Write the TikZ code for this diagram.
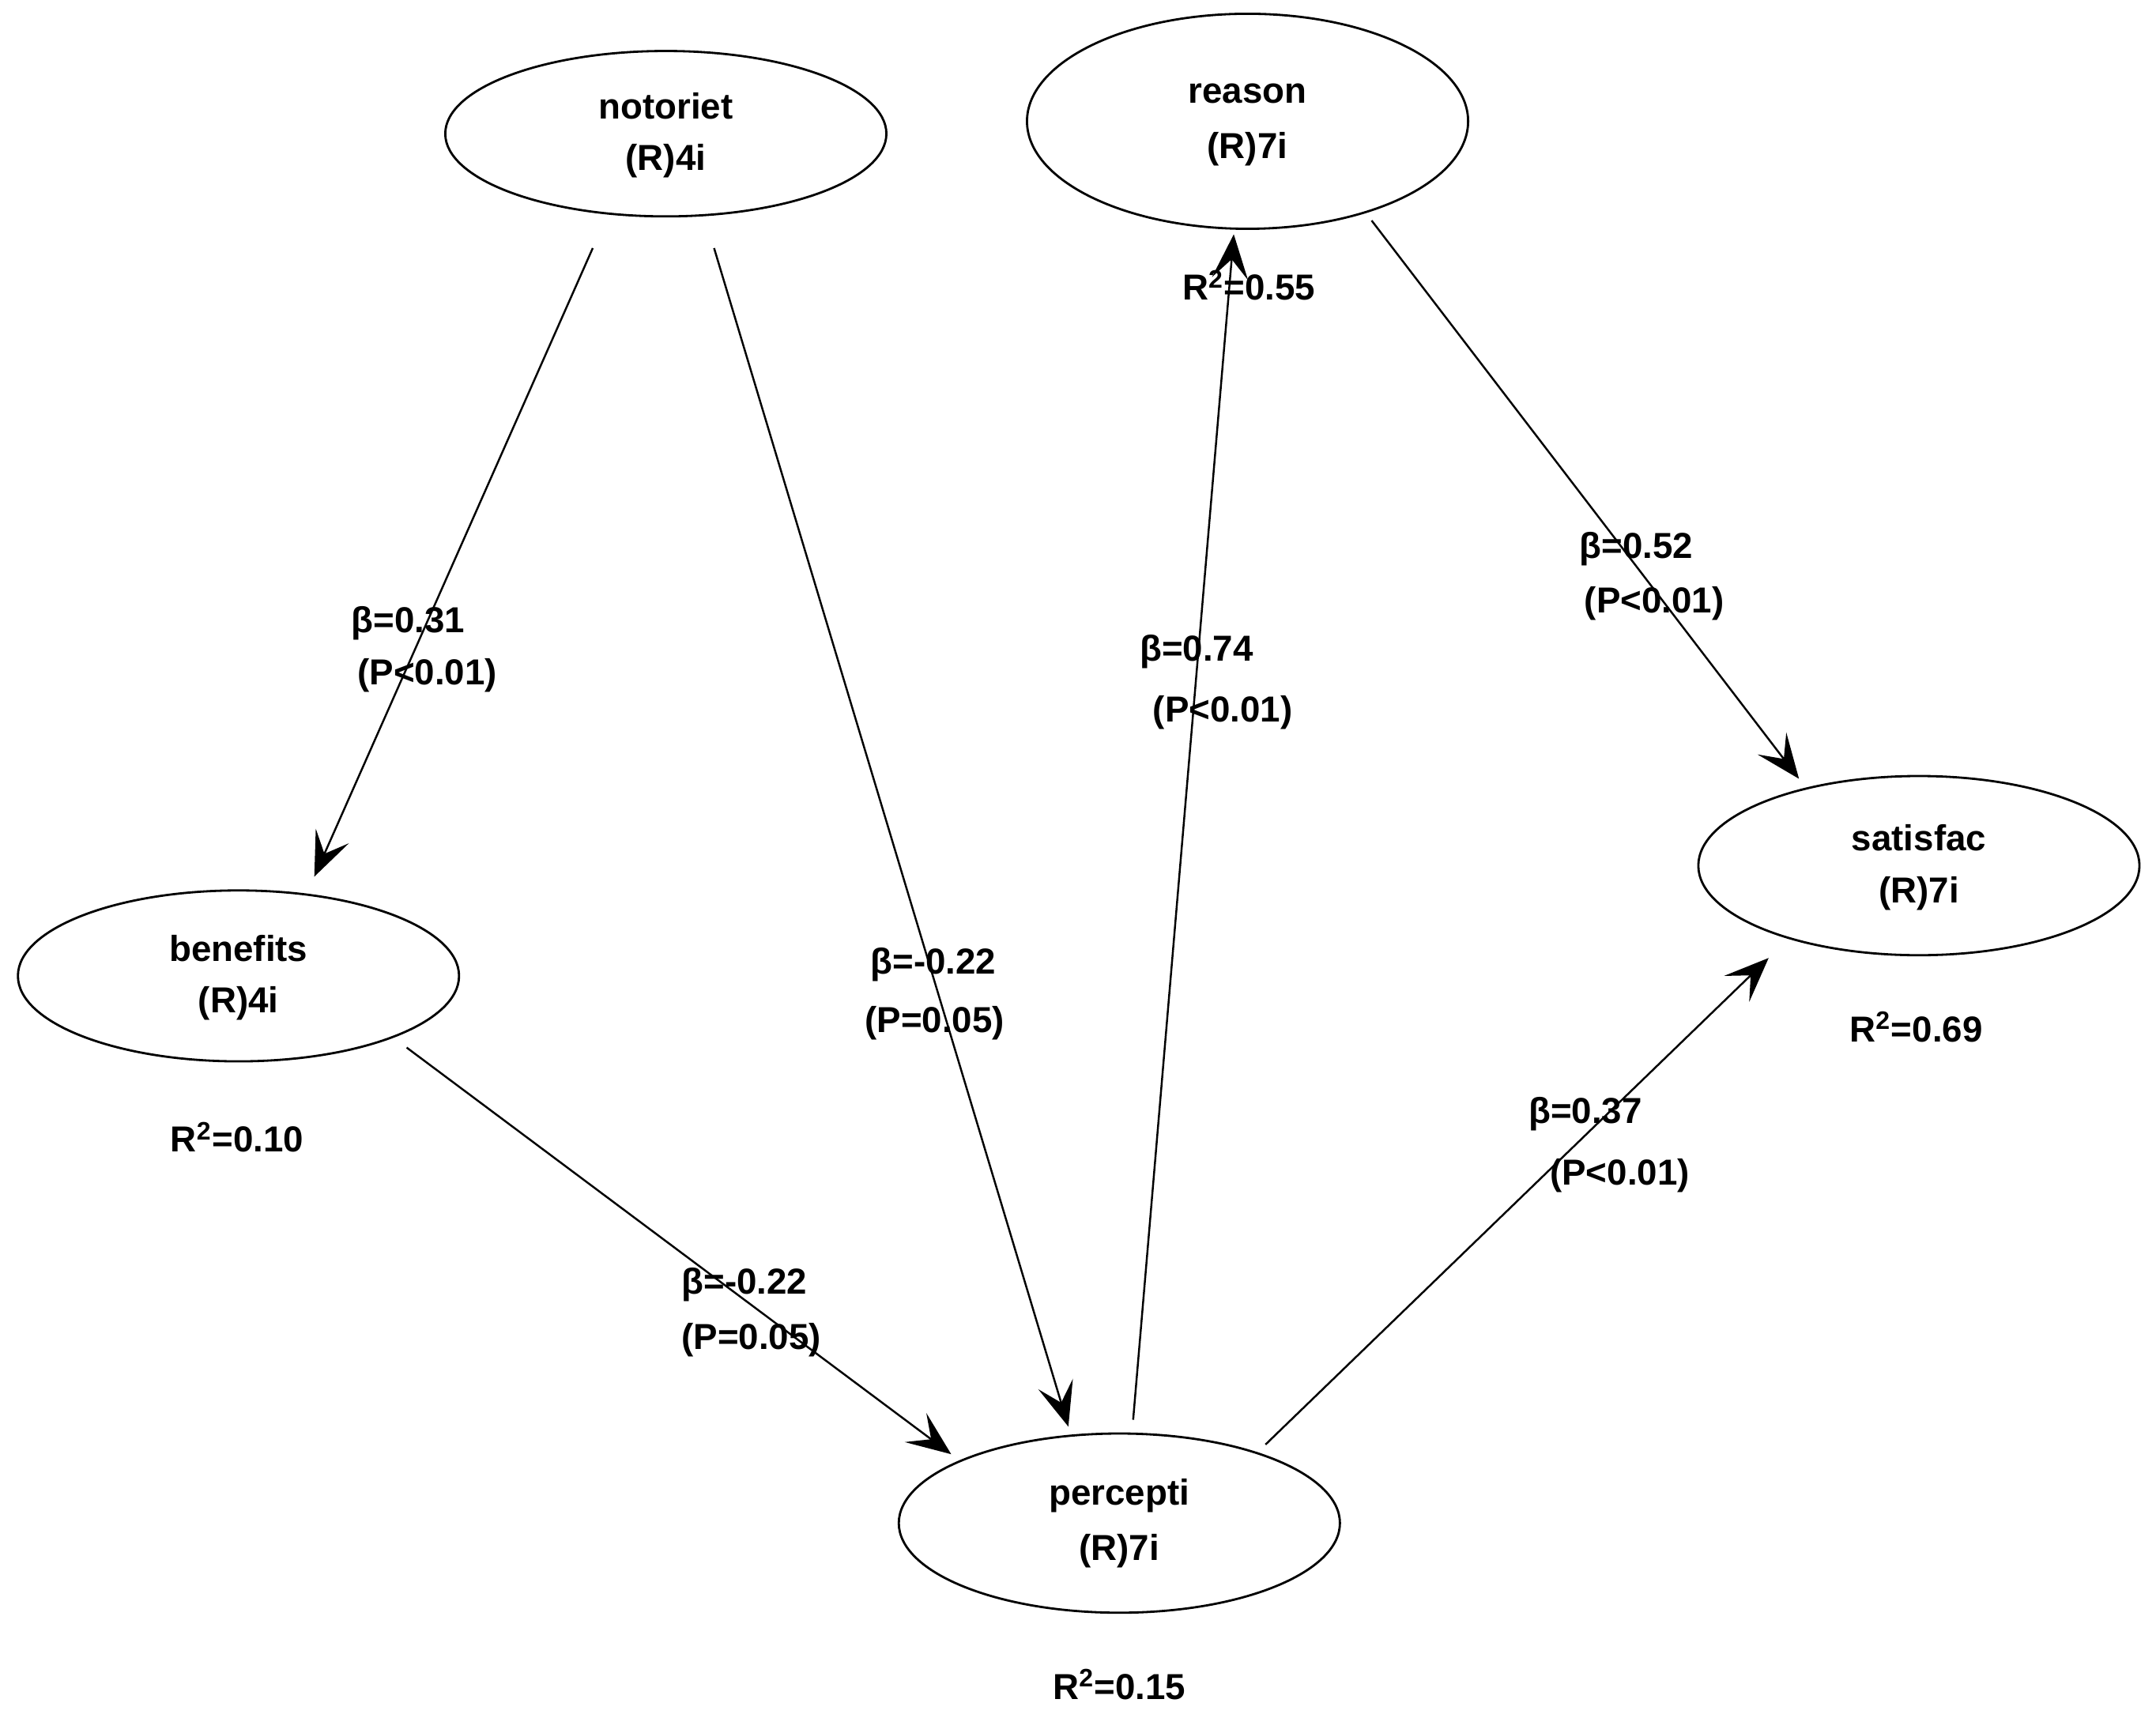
\documentclass[tikz,border=0pt]{standalone}
\usepackage{fontspec}
\setmainfont{Liberation Sans}
\usetikzlibrary{arrows.meta}
\begin{document}
\begin{tikzpicture}[x=0.01744cm,y=-0.01744cm,
  lv/.style={draw,ellipse,minimum width=320\pgflinewidth,inner sep=0pt},
  t/.style={font=\fontsize{13}{15}\selectfont\bfseries,inner sep=0pt},
  arr/.style={-{Stealth[length=16pt,width=13pt,inset=7pt]},line width=0.7pt}]
\useasboundingbox (0,0) rectangle (1564,1246);
\tikzset{ell/.style={draw,line width=0.8pt}}
\def\E#1#2#3#4#5#6{\draw[ell] (#2,#3) ellipse [x radius=#4,y radius=#5];
  \coordinate (#1) at (#2,#3);
  \node[t] at (#2,#3-20) {#6};}
\E{no}{483}{97}{160}{60}{notoriet}
\node[t] at (483,117) {(R)4i};
\E{re}{905}{88}{160}{78}{reason}
\node[t] at (905,108) {(R)7i};
\E{be}{173}{708}{160}{62}{benefits}
\node[t] at (173,728) {(R)4i};
\E{sa}{1392}{628}{160}{65}{satisfac}
\node[t] at (1392,648) {(R)7i};
\E{pe}{812}{1105}{160}{65}{percepti}
\node[t] at (812,1125) {(R)7i};
\coordinate (a1) at (430,180); \coordinate (b1) at (228,636);
\coordinate (a2) at (518,180); \coordinate (b2) at (775,1035);
\coordinate (a3) at (295,760); \coordinate (b3) at (690,1055);
\coordinate (a4) at (822,1030); \coordinate (b4) at (895,170);
\coordinate (a5) at (995,160); \coordinate (b5) at (1305,565);
\coordinate (a6) at (918,1048); \coordinate (b6) at (1283,695);
\foreach \i in {1,...,6} \draw[arr] (a\i) -- (b\i);
\node[t] at (296,452) {β=0.31}; \node[t] at (310,490) {(P<0.01)};
\node[t] at (677,700) {β=-0.22}; \node[t] at (678,742) {(P=0.05)};
\node[t] at (868,473) {β=0.74}; \node[t] at (887,517) {(P<0.01)};
\node[t] at (1187,398) {β=0.52}; \node[t] at (1200,438) {(P<0.01)};
\node[t] at (1150,808) {β=0.37}; \node[t] at (1175,853) {(P<0.01)};
\node[t] at (540,932) {β=-0.22}; \node[t] at (545,972) {(P=0.05)};
\node[t] at (172,825) {R$^{\mathbf 2}$=0.10};
\node[t] at (906,207) {R$^{\mathbf 2}$=0.55};
\node[t] at (1390,745) {R$^{\mathbf 2}$=0.69};
\node[t] at (812,1222) {R$^{\mathbf 2}$=0.15};
\end{tikzpicture}
\end{document}
